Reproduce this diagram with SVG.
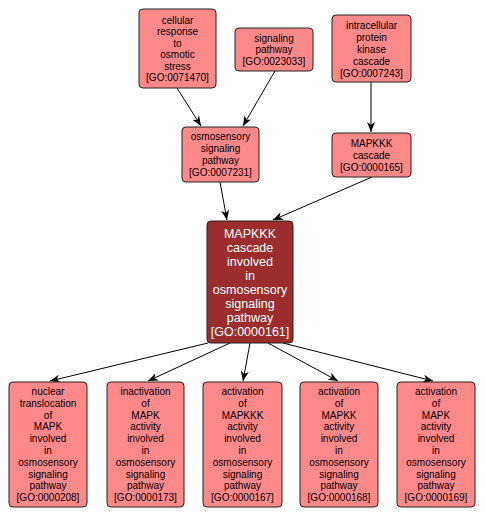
<svg xmlns="http://www.w3.org/2000/svg" width="485" height="519" viewBox="0 0 485 519">
<defs>
<style>
.n rect{fill:#FF8888;stroke:#222;stroke-width:1}
.n text{font-family:"Liberation Sans",Arial,sans-serif;font-size:10px;fill:#000;text-anchor:middle}
.m rect{fill:#9B2D2D;stroke:#222;stroke-width:1}
.m text{font-family:"Liberation Sans",Arial,sans-serif;font-size:12.5px;fill:#fff;text-anchor:middle}
.e line{stroke:#000;stroke-width:1;marker-end:url(#ah)}
</style>
<marker id="ah" markerUnits="userSpaceOnUse" markerWidth="12" markerHeight="10" refX="10" refY="4" orient="auto" viewBox="0 0 12 10">
<path d="M0,0 L10,4 L0,8 L3,4 z" fill="#000"/>
</marker>
</defs>
<rect width="485" height="519" fill="#fff"/>
<g id="edges" class="e">
<line x1="177" y1="88" x2="201" y2="126"/>
<line x1="275" y1="71" x2="243" y2="126"/>
<line x1="371" y1="82" x2="371" y2="132"/>
<line x1="220" y1="182" x2="227" y2="220"/>
<line x1="372" y1="177" x2="273" y2="220"/>
<line x1="208" y1="343" x2="50" y2="381"/>
<line x1="230" y1="343" x2="148" y2="381"/>
<line x1="250" y1="343" x2="243" y2="381"/>
<line x1="268" y1="343" x2="338" y2="381"/>
<line x1="283" y1="343" x2="433" y2="381"/>
</g>
<g id="GO0071470" class="n">
<rect x="139" y="9" width="77" height="79" rx="4"/>
<text x="177.5" y="24">cellular</text>
<text x="177.5" y="35.4">response</text>
<text x="177.5" y="46.8">to</text>
<text x="177.5" y="58.2">osmotic</text>
<text x="177.5" y="69.6">stress</text>
<text x="177.5" y="81">[GO:0071470]</text>
</g>
<g id="GO0023033" class="n">
<rect x="235" y="28" width="78" height="43" rx="4"/>
<text x="274" y="41.5">signaling</text>
<text x="274" y="53">pathway</text>
<text x="274" y="64.5">[GO:0023033]</text>
</g>
<g id="GO0007243" class="n">
<rect x="332" y="15" width="79" height="67" rx="4"/>
<text x="371.5" y="29">intracellular</text>
<text x="371.5" y="41">protein</text>
<text x="371.5" y="53">kinase</text>
<text x="371.5" y="65">cascade</text>
<text x="371.5" y="77">[GO:0007243]</text>
</g>
<g id="GO0007231" class="n">
<rect x="182" y="127" width="77" height="55" rx="4"/>
<text x="220.5" y="140">osmosensory</text>
<text x="220.5" y="152">signaling</text>
<text x="220.5" y="164">pathway</text>
<text x="220.5" y="176">[GO:0007231]</text>
</g>
<g id="GO0000165" class="n">
<rect x="332" y="133" width="79" height="44" rx="4"/>
<text x="371.5" y="146.5">MAPKKK</text>
<text x="371.5" y="158.5">cascade</text>
<text x="371.5" y="170.5">[GO:0000165]</text>
</g>
<g id="GO0000161" class="m">
<rect x="207" y="221" width="86" height="122" rx="4"/>
<text x="250" y="237.5">MAPKKK</text>
<text x="250" y="251.5">cascade</text>
<text x="250" y="265.5">involved</text>
<text x="250" y="279.5">in</text>
<text x="250" y="293.5">osmosensory</text>
<text x="250" y="307.5">signaling</text>
<text x="250" y="321.5">pathway</text>
<text x="250" y="335.5">[GO:0000161]</text>
</g>
<g id="GO0000208" class="n">
<rect x="9" y="382" width="78" height="125" rx="4"/>
<text x="48" y="395">nuclear</text>
<text x="48" y="406.8">translocation</text>
<text x="48" y="418.6">of</text>
<text x="48" y="430.4">MAPK</text>
<text x="48" y="442.2">involved</text>
<text x="48" y="454">in</text>
<text x="48" y="465.8">osmosensory</text>
<text x="48" y="477.6">signaling</text>
<text x="48" y="489.4">pathway</text>
<text x="48" y="501.2">[GO:0000208]</text>
</g>
<g id="GO0000173" class="n">
<rect x="107" y="382" width="77" height="125" rx="4"/>
<text x="145.5" y="395">inactivation</text>
<text x="145.5" y="406.8">of</text>
<text x="145.5" y="418.6">MAPK</text>
<text x="145.5" y="430.4">activity</text>
<text x="145.5" y="442.2">involved</text>
<text x="145.5" y="454">in</text>
<text x="145.5" y="465.8">osmosensory</text>
<text x="145.5" y="477.6">signaling</text>
<text x="145.5" y="489.4">pathway</text>
<text x="145.5" y="501.2">[GO:0000173]</text>
</g>
<g id="GO0000167" class="n">
<rect x="203" y="382" width="79" height="125" rx="4"/>
<text x="242.5" y="395">activation</text>
<text x="242.5" y="406.8">of</text>
<text x="242.5" y="418.6">MAPKKK</text>
<text x="242.5" y="430.4">activity</text>
<text x="242.5" y="442.2">involved</text>
<text x="242.5" y="454">in</text>
<text x="242.5" y="465.8">osmosensory</text>
<text x="242.5" y="477.6">signaling</text>
<text x="242.5" y="489.4">pathway</text>
<text x="242.5" y="501.2">[GO:0000167]</text>
</g>
<g id="GO0000168" class="n">
<rect x="300" y="382" width="78" height="125" rx="4"/>
<text x="339" y="395">activation</text>
<text x="339" y="406.8">of</text>
<text x="339" y="418.6">MAPKK</text>
<text x="339" y="430.4">activity</text>
<text x="339" y="442.2">involved</text>
<text x="339" y="454">in</text>
<text x="339" y="465.8">osmosensory</text>
<text x="339" y="477.6">signaling</text>
<text x="339" y="489.4">pathway</text>
<text x="339" y="501.2">[GO:0000168]</text>
</g>
<g id="GO0000169" class="n">
<rect x="397" y="382" width="78" height="125" rx="4"/>
<text x="436" y="395">activation</text>
<text x="436" y="406.8">of</text>
<text x="436" y="418.6">MAPK</text>
<text x="436" y="430.4">activity</text>
<text x="436" y="442.2">involved</text>
<text x="436" y="454">in</text>
<text x="436" y="465.8">osmosensory</text>
<text x="436" y="477.6">signaling</text>
<text x="436" y="489.4">pathway</text>
<text x="436" y="501.2">[GO:0000169]</text>
</g>
</svg>
